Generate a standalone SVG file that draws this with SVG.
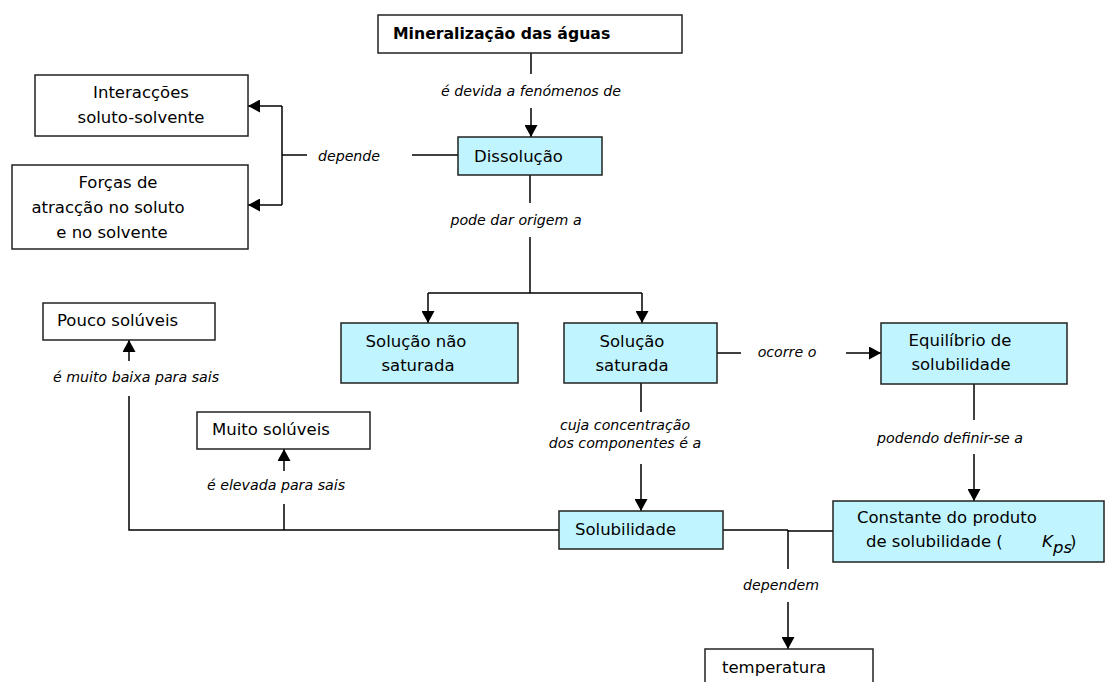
<svg xmlns="http://www.w3.org/2000/svg" width="1105" height="682" viewBox="0 0 1105 682">
<defs>
<marker id="ah" viewBox="0 0 10 10" refX="10" refY="5" markerWidth="12" markerHeight="13" markerUnits="userSpaceOnUse" orient="auto" preserveAspectRatio="none">
<path d="M0,0 L10,5 L0,10 Z" fill="#000"/>
</marker>
<style>
.box{fill:#fff;stroke:#222;stroke-width:1.5}
.cy{fill:#C0F5FF;stroke:#222;stroke-width:1.5}
.t{font-family:"DejaVu Sans","Liberation Sans",sans-serif;font-size:16.5px;fill:#000}
.b{font-weight:bold;font-size:15.7px}
.lab{font-family:"DejaVu Sans","Liberation Sans",sans-serif;font-size:14.2px;font-style:italic;fill:#000}
.c{fill:none;stroke:#000;stroke-width:1.5}
.m{text-anchor:middle}
</style>
</defs>
<rect width="1105" height="682" fill="#fff"/>

<g id="connectors">
<path class="c" d="M531,53 V74"/>
<path class="c" d="M531,108 V137" marker-end="url(#ah)"/>
<path class="c" d="M458,155 H412"/>
<path class="c" d="M307,155 H282"/>
<path class="c" d="M282,106 V205"/>
<path class="c" d="M282,106 H248" marker-end="url(#ah)"/>
<path class="c" d="M282,205 H248" marker-end="url(#ah)"/>
<path class="c" d="M530,175 V203"/>
<path class="c" d="M530,237 V293"/>
<path class="c" d="M428,293 H642"/>
<path class="c" d="M428,293 V323" marker-end="url(#ah)"/>
<path class="c" d="M642,293 V323" marker-end="url(#ah)"/>
<path class="c" d="M717,353 H741"/>
<path class="c" d="M846,353 H881" marker-end="url(#ah)"/>
<path class="c" d="M974,384 V420"/>
<path class="c" d="M974,454 V501" marker-end="url(#ah)"/>
<path class="c" d="M641,383 V412"/>
<path class="c" d="M641,464 V511" marker-end="url(#ah)"/>
<path class="c" d="M559,530 H129 V396"/>
<path class="c" d="M129,361 V340" marker-end="url(#ah)"/>
<path class="c" d="M284,530 V504"/>
<path class="c" d="M284,471 V449" marker-end="url(#ah)"/>
<path class="c" d="M723,530 H788 M788,531 H833"/>
<path class="c" d="M788,530 V569"/>
<path class="c" d="M788,602 V649" marker-end="url(#ah)"/>
<text class="lab m" x="531" y="96">é devida a fenómenos de</text>
<text class="lab m" x="349" y="161">depende</text>
<text class="lab m" x="516" y="225">pode dar origem a</text>
<text class="lab m" x="787" y="357">ocorre o</text>
<text class="lab m" x="950" y="443">podendo definir-se a</text>
<text class="lab m" x="625" y="430">cuja concentração</text>
<text class="lab m" x="625" y="448">dos componentes é a</text>
<text class="lab m" x="136" y="382">é muito baixa para sais</text>
<text class="lab m" x="276" y="490">é elevada para sais</text>
<text class="lab m" x="781" y="590">dependem</text>
</g>

<g id="n-mineralizacao">
<rect class="box" x="378" y="15" width="304" height="38"/>
<text class="t b" x="393" y="39">Mineralização das águas</text>
</g>
<g id="n-dissolucao">
<rect class="cy" x="458" y="137" width="144" height="38"/>
<text class="t" x="474" y="162">Dissolução</text>
</g>
<g id="n-interaccoes">
<rect class="box" x="35" y="75" width="213" height="61"/>
<text class="t m" x="141" y="98">Interacções</text>
<text class="t m" x="141" y="123">soluto-solvente</text>
</g>
<g id="n-forcas">
<rect class="box" x="12" y="165" width="236" height="84"/>
<text class="t m" x="118" y="188">Forças de</text>
<text class="t m" x="108" y="213">atracção no soluto</text>
<text class="t m" x="112" y="238">e no solvente</text>
</g>
<g id="n-nao-saturada">
<rect class="cy" x="341" y="323" width="177" height="60"/>
<text class="t m" x="416" y="347">Solução não</text>
<text class="t m" x="418" y="371">saturada</text>
</g>
<g id="n-saturada">
<rect class="cy" x="564" y="323" width="153" height="60"/>
<text class="t m" x="632" y="347">Solução</text>
<text class="t m" x="632" y="371">saturada</text>
</g>
<g id="n-equilibrio">
<rect class="cy" x="881" y="323" width="186" height="61"/>
<text class="t m" x="960" y="346">Equilíbrio de</text>
<text class="t m" x="961" y="370">solubilidade</text>
</g>
<g id="n-constante">
<rect class="cy" x="833" y="501" width="271" height="61"/>
<text class="t" x="857" y="523">Constante do produto</text>
<text class="t" x="866" y="547">de solubilidade (</text>
<text class="t" x="1042" y="547" font-style="italic">K</text>
<text class="t" x="1053" y="553" font-style="italic" font-size="12">ps</text>
<text class="t" x="1070" y="547">)</text>
</g>
<g id="n-solubilidade">
<rect class="cy" x="559" y="511" width="164" height="38"/>
<text class="t" x="575" y="535">Solubilidade</text>
</g>
<g id="n-pouco">
<rect class="box" x="43" y="303" width="172" height="37"/>
<text class="t" x="57" y="326">Pouco solúveis</text>
</g>
<g id="n-muito">
<rect class="box" x="197" y="412" width="173" height="37"/>
<text class="t" x="212" y="435">Muito solúveis</text>
</g>
<g id="n-temperatura">
<rect class="box" x="705" y="649" width="168" height="45"/>
<text class="t" x="722" y="673">temperatura</text>
</g>
</svg>
